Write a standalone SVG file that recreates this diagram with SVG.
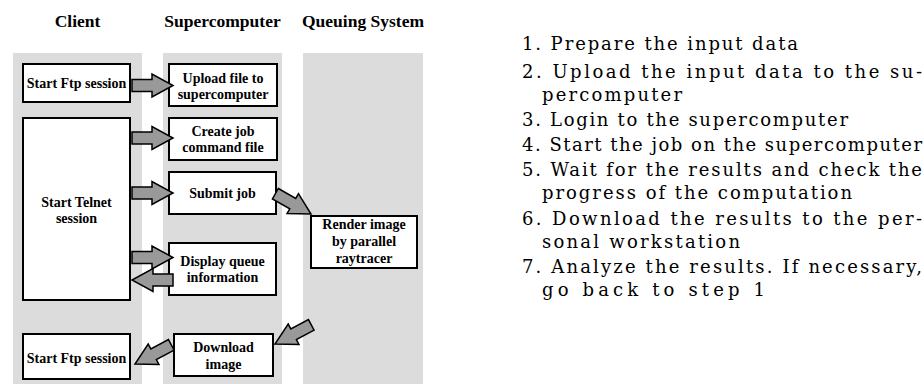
<svg xmlns="http://www.w3.org/2000/svg" xmlns:xlink="http://www.w3.org/1999/xlink" width="924" height="384" viewBox="0 0 924 384">
<defs>
<style>
.col{fill:#dcdcdc}
.box{fill:#fff;stroke:#000;stroke-width:2}
.arr{fill:#999;stroke:#000;stroke-width:1.5;stroke-linejoin:miter}
.t{font-family:"Liberation Serif","Times New Roman",serif;font-weight:bold;font-size:14px;text-anchor:middle;fill:#000}
.h{font-family:"Liberation Serif","Times New Roman",serif;font-weight:bold;font-size:17.5px;text-anchor:middle;fill:#000}
.l{font-family:"DejaVu Serif","Liberation Serif",serif;font-size:18px;fill:#000}
</style>
<path id="arr" d="M-41,-6 L-21,-6 L-21,-11.5 L0,0 L-21,11.5 L-21,6 L-41,6 Z"/>
</defs>
<rect width="924" height="384" fill="#fff"/>
<g id="columns">
<rect class="col" x="13" y="53" width="129" height="331"/>
<rect class="col" x="163" y="53" width="119" height="331"/>
<rect class="col" x="303" y="53" width="120" height="331"/>
<text class="h" x="77.5" y="27">Client</text>
<text class="h" x="222.5" y="27">Supercomputer</text>
<text class="h" x="363" y="27">Queuing System</text>
</g>
<g id="ftp1"><rect class="box" x="23" y="64" width="107" height="38"/><text class="t" x="76.5" y="88">Start Ftp session</text></g>
<g id="telnet"><rect class="box" x="23" y="118" width="107" height="182"/><text class="t" x="76.5" y="207">Start Telnet</text><text class="t" x="76.5" y="223">session</text></g>
<g id="upload"><rect class="box" x="169" y="64" width="108" height="42"/><text class="t" x="223" y="83">Upload file to</text><text class="t" x="223" y="99">supercomputer</text></g>
<g id="createjob"><rect class="box" x="169" y="118" width="108" height="42"/><text class="t" x="223" y="136">Create job</text><text class="t" x="223" y="152">command file</text></g>
<g id="submit"><rect class="box" x="169" y="172" width="107" height="42"/><text class="t" x="222.5" y="198">Submit job</text></g>
<g id="display"><rect class="box" x="169" y="243" width="107" height="52"/><text class="t" x="222.5" y="266">Display queue</text><text class="t" x="222.5" y="282">information</text></g>
<g id="render"><rect class="box" x="311" y="216" width="106" height="52"/><text class="t" x="364" y="229">Render image</text><text class="t" x="364" y="246">by parallel</text><text class="t" x="364" y="263">raytracer</text></g>
<g id="download"><rect class="box" x="174" y="334" width="99" height="42"/><text class="t" x="223.5" y="352">Download</text><text class="t" x="223.5" y="369">image</text></g>
<g id="ftp2"><rect class="box" x="23" y="334" width="107" height="45"/><text class="t" x="76.5" y="363">Start Ftp session</text></g>
<g id="connectors">
<use xlink:href="#arr" class="arr" transform="translate(173,85.5)"/>
<use xlink:href="#arr" class="arr" transform="translate(173,138)"/>
<use xlink:href="#arr" class="arr" transform="translate(173,193)"/>
<use xlink:href="#arr" class="arr" transform="translate(173,257.5)"/>
<use xlink:href="#arr" class="arr" transform="translate(132,280) rotate(180)"/>
<use xlink:href="#arr" class="arr" transform="translate(311,214) rotate(29.7)"/>
<use xlink:href="#arr" class="arr" transform="translate(275,344) rotate(152.2)"/>
<use xlink:href="#arr" class="arr" transform="translate(135,364) rotate(152.2)"/>
</g>
<g id="steps">
<text class="l" x="522" y="50" textLength="276" lengthAdjust="spacing">1. Prepare the input data</text>
<text class="l" x="522" y="78" textLength="400" lengthAdjust="spacing">2. Upload the input data to the su-</text>
<text class="l" x="542" y="101" textLength="140" lengthAdjust="spacing">percomputer</text>
<text class="l" x="522" y="126" textLength="326" lengthAdjust="spacing">3. Login to the supercomputer</text>
<text class="l" x="522" y="151" textLength="400" lengthAdjust="spacing">4. Start the job on the supercomputer</text>
<text class="l" x="522" y="176" textLength="400" lengthAdjust="spacing">5. Wait for the results and check the</text>
<text class="l" x="542" y="199" textLength="310" lengthAdjust="spacing">progress of the computation</text>
<text class="l" x="522" y="225" textLength="400" lengthAdjust="spacing">6. Download the results to the per-</text>
<text class="l" x="542" y="248" textLength="198" lengthAdjust="spacing">sonal workstation</text>
<text class="l" x="522" y="273" textLength="400" lengthAdjust="spacing">7. Analyze the results. If necessary,</text>
<text class="l" x="542" y="296" textLength="223" lengthAdjust="spacing">go back to step 1</text>
</g>
</svg>
